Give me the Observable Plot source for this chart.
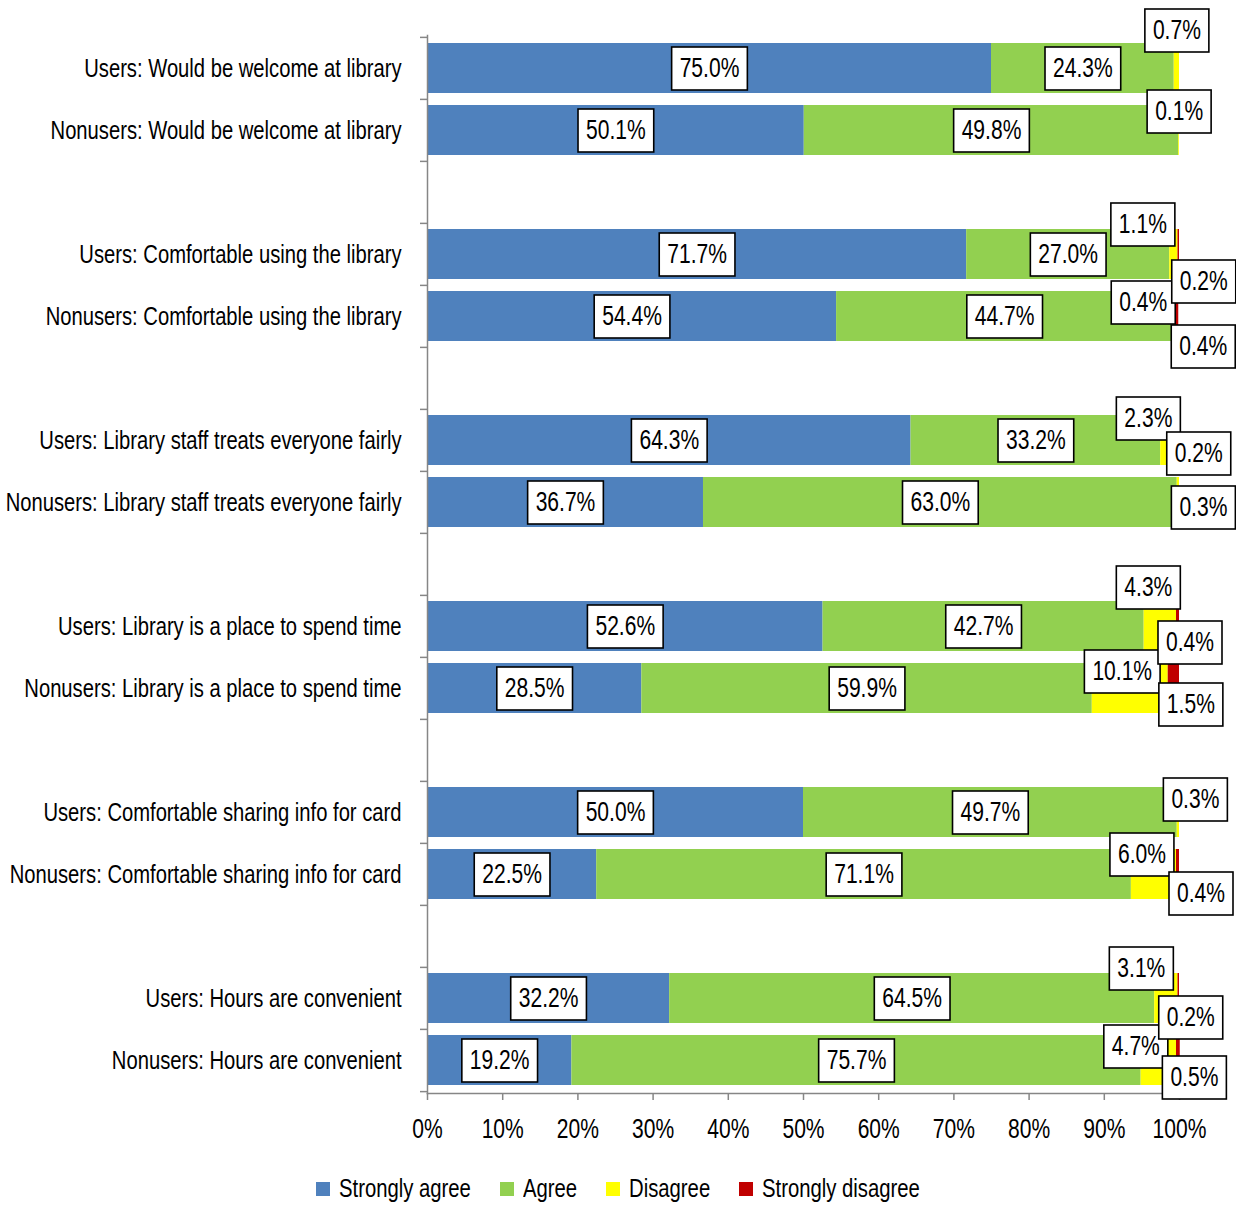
<!DOCTYPE html>
<html><head><meta charset="utf-8">
<script src="https://cdn.jsdelivr.net/npm/d3@7"></script>
<script src="https://cdn.jsdelivr.net/npm/@observablehq/plot@0.6"></script>
<style>
body{margin:0;background:#fff;}
#chart svg{display:block;}
.lg-swatches-wrap{justify-content:center;}
.lg-swatch{margin-right:29px !important;}
.lg-swatch:last-child{margin-right:0 !important;}
.lg-swatch > svg{margin-right:9px !important;}
</style></head><body><div id="chart"></div><script>
const questions = ["Would be welcome at library","Comfortable using the library","Library staff treats everyone fairly","Library is a place to spend time","Comfortable sharing info for card","Hours are convenient"];
const groups = ["Users","Nonusers"];
const categories = questions.flatMap(q => groups.map(g => `${g}: ${q}`));
const series = ["Strongly agree","Agree","Disagree","Strongly disagree"];
const stronglyAgree    = [75.0,50.1,71.7,54.4,64.3,36.7,52.6,28.5,50.0,22.5,32.2,19.2];
const agree            = [24.3,49.8,27.0,44.7,33.2,63.0,42.7,59.9,49.7,71.1,64.5,75.7];
const disagree         = [0.7,0.1,1.1,0.4,2.3,0.3,4.3,10.1,0.3,6.0,3.1,4.7];
const stronglyDisagree = [null,null,0.2,0.4,0.2,null,0.4,1.5,null,0.4,0.2,0.5];
const xTicks = [0,10,20,30,40,50,60,70,80,90,100];

// styling / label placement (pixels)
const colors = ["#4F81BD","#92D050","#FFFF00","#C00000"];
const disagreeNudge = [[0,-38],[0,-19],[-31,-30],[-31,-14],[-21,-22],[25,5],[-12,-39],[-8,-17],[17,-13],[-12,-20],[-25,-30],[-23,-14]];
const sdNudge = [null,null,[25,27],[26,30],[20,13],null,[12,16],[17,16],null,[23,19],[12,19],[16,17]];
const nudges = {"Disagree": disagreeNudge, "Strongly disagree": sdNudge};

const slots = [];
categories.forEach((c, i) => { slots.push(c); if (i % 2 === 1 && i < categories.length - 1) slots.push("gap" + i); });

const valuesBySeries = [stronglyAgree, agree, disagree, stronglyDisagree];
const rows = [];
series.forEach((s, k) => categories.forEach((c, i) => {
  const v = valuesBySeries[k][i];
  if (v == null) return;
  const n = nudges[s] && nudges[s][i];
  rows.push({category: c, series: s, value: v, label: v.toFixed(1) + "%", dx: n ? n[0] : 0, dy: n ? n[1] : 0});
}));

const FONT = '"Liberation Sans", Arial, sans-serif';
const SX = 0.78; // horizontal condensing of all text
const VAL_SIZE = 27;
const W = 1236, H = 1172, mT = 35, mB = 79, mL = 427, mR = 57;
const step = (H - mT - mB) / slots.length;

const measureCtx = document.createElement("canvas").getContext("2d");
function measure(str, size) { measureCtx.font = `${size}px ${FONT}`; return measureCtx.measureText(str).width; }

function boxed(index, scales, values, dimensions, context, next) {
  const X = Array.from(values.x, (v, i) => v + rows[i].dx);
  const Y = Array.from(values.y, (v, i) => v + rows[i].dy);
  const g = next(index, scales, {...values, x: X, y: Y}, dimensions, context);
  const texts = Array.from(g.querySelectorAll("text"));
  Array.from(index).forEach((i, k) => {
    const w = measure(rows[i].label, VAL_SIZE) * SX + 16;
    const h = 43;
    const r = document.createElementNS("http://www.w3.org/2000/svg", "rect");
    r.setAttribute("x", X[i] - w / 2);
    r.setAttribute("y", Y[i] - h / 2);
    r.setAttribute("width", w);
    r.setAttribute("height", h);
    r.setAttribute("fill", "#fff");
    r.setAttribute("stroke", "#000");
    r.setAttribute("stroke-width", 1.6);
    g.insertBefore(r, texts[k]);
  });
  return g;
}

const chart = Plot.plot({
  width: W, height: H, marginTop: mT, marginBottom: mB, marginLeft: mL, marginRight: mR,
  style: {fontFamily: FONT, fontSize: "25px", color: "#000", background: "#fff"},
  x: {domain: [0, 100]},
  y: {domain: slots, paddingInner: 0.2, paddingOuter: 0.1, align: 0.5},
  color: {domain: series, range: colors},
  marks: [
    Plot.barX(rows, Plot.stackX({x: "value", y: "category", z: "series", fill: "series", order: series})),
    Plot.frame({anchor: "left", stroke: "#868686", strokeWidth: 1.5}),
    Plot.frame({anchor: "bottom", stroke: "#868686", strokeWidth: 1.5}),
    Plot.axisY(slots, {tickSize: 7, tickFormat: () => "", dy: -step / 2, stroke: "#868686", strokeWidth: 1.5, label: null}),
    Plot.axisY([slots[slots.length - 1]], {tickSize: 7, tickFormat: () => "", dy: step / 2, stroke: "#868686", strokeWidth: 1.5, label: null}),
    Plot.axisY(categories, {tickSize: 0, tickPadding: 26, fontSize: 25.9, fill: "#000", label: null}),
    Plot.axisX(xTicks, {tickSize: 7, tickPadding: 18, tickFormat: d => d + "%", fontSize: 27, stroke: "#868686", strokeWidth: 1.5, fill: "#000", label: null}),
    Plot.text(rows, Plot.stackX({x: "value", y: "category", z: "series", order: series, text: "label", fontSize: VAL_SIZE, fill: "#000", render: boxed}))
  ]
});
// condense every text horizontally around its anchor point
chart.querySelectorAll("text").forEach(t => {
  const tr = t.getAttribute("transform") || "";
  t.setAttribute("transform", (tr + ` scale(${SX},1)`).trim());
});
document.getElementById("chart").appendChild(chart);

const LEG_SIZE = 26;
const legend = Plot.legend({color: {domain: series, range: colors}, legend: "swatches", swatchSize: 14, className: "lg", style: {fontFamily: FONT, fontSize: LEG_SIZE + "px", color: "#000"}});
legend.querySelectorAll(".lg-swatch").forEach(sw => {
  const last = sw.lastChild;
  if (!last || (last.nodeName && last.nodeName.toLowerCase() === "svg")) return;
  const label = last.textContent;
  const outer = document.createElement("span");
  outer.style.cssText = `display:inline-block;width:${measure(label, LEG_SIZE) * SX}px;white-space:nowrap;`;
  const inner = document.createElement("span");
  inner.style.cssText = `display:inline-block;transform:scaleX(${SX});transform-origin:0 50%;`;
  inner.textContent = label;
  outer.appendChild(inner);
  sw.replaceChild(outer, last);
});
document.getElementById("chart").appendChild(legend);
</script></body></html>
